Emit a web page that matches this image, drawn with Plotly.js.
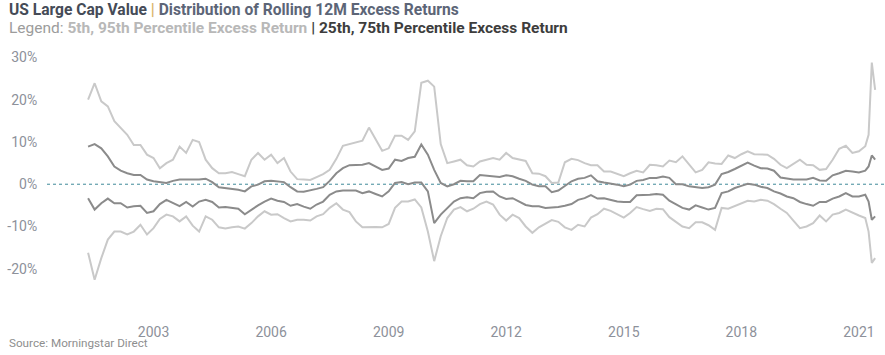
<!DOCTYPE html>
<html>
<head>
<meta charset="utf-8">
<script src="https://cdn.plot.ly/plotly-3.0.1.min.js"></script>
<style>
html,body{margin:0;padding:0;background:#fff;}
#chart{width:885px;height:355px;}
</style>
</head>
<body>
<div id="chart"></div>
<script>
// Dates (bimonthly, last months monthly)
const dates = [
 '2001-05-01','2001-07-01','2001-09-01','2001-11-01',
 '2002-01-01','2002-03-01','2002-05-01','2002-07-01','2002-09-01','2002-11-01',
 '2003-01-01','2003-03-01','2003-05-01','2003-07-01','2003-09-01','2003-11-01',
 '2004-01-01','2004-03-01','2004-05-01','2004-07-01','2004-09-01','2004-11-01',
 '2005-01-01','2005-03-01','2005-05-01','2005-07-01','2005-09-01','2005-11-01',
 '2006-01-01','2006-03-01','2006-05-01','2006-07-01','2006-09-01','2006-11-01',
 '2007-01-01','2007-03-01','2007-05-01','2007-07-01','2007-09-01','2007-11-01',
 '2008-01-01','2008-03-01','2008-05-01','2008-07-01','2008-09-01','2008-11-01',
 '2009-01-01','2009-03-01','2009-05-01','2009-07-01','2009-09-01','2009-11-01',
 '2010-01-01','2010-03-01','2010-05-01','2010-07-01','2010-09-01','2010-11-01',
 '2011-01-01','2011-03-01','2011-05-01','2011-07-01','2011-09-01','2011-11-01',
 '2012-01-01','2012-03-01','2012-05-01','2012-07-01','2012-09-01','2012-11-01',
 '2013-01-01','2013-03-01','2013-05-01','2013-07-01','2013-09-01','2013-11-01',
 '2014-01-01','2014-03-01','2014-05-01','2014-07-01','2014-09-01','2014-11-01',
 '2015-01-01','2015-03-01','2015-05-01','2015-07-01','2015-09-01','2015-11-01',
 '2016-01-01','2016-03-01','2016-05-01','2016-07-01','2016-09-01','2016-11-01',
 '2017-01-01','2017-03-01','2017-05-01','2017-07-01','2017-09-01','2017-11-01',
 '2018-01-01','2018-03-01','2018-05-01','2018-07-01','2018-09-01','2018-11-01',
 '2019-01-01','2019-03-01','2019-05-01','2019-07-01','2019-09-01','2019-11-01',
 '2020-01-01','2020-03-01','2020-05-01','2020-07-01','2020-09-01','2020-11-01',
 '2021-01-01','2021-03-01','2021-04-01','2021-05-01','2021-06-01'
];

// 95th percentile excess return (%)
const p95 = [
 20.0, 23.9, 19.6, 18.4,
 14.9, 13.3, 11.7, 9.3, 9.3, 7.0,
 6.2, 3.8, 5.0, 5.8, 8.9, 7.4,
 10.5, 10.0, 5.8, 3.8, 2.6, 2.6,
 2.9, 2.4, 1.9, 5.8, 7.4, 5.8,
 7.0, 5.0, 6.2, 3.0, 1.2, 1.1,
 1.0, 1.7, 2.4, 3.4, 6.0, 9.1,
 9.5, 10.0, 10.3, 13.4, 10.7, 7.9,
 8.5, 11.5, 11.5, 10.5, 12.5, 24.0,
 24.5, 23.1, 9.5, 5.0, 5.4, 5.8,
 4.5, 4.2, 5.4, 5.8, 6.2, 5.8,
 7.4, 6.2, 5.8, 5.5, 2.6, 2.5,
 1.9, 0.3, 0.4, 5.2, 6.0, 5.7,
 5.0, 4.5, 4.5, 3.0, 3.0, 2.4,
 1.9, 2.6, 3.2, 2.8, 4.6, 4.5,
 4.2, 5.6, 5.2, 6.6, 4.6, 2.8,
 3.4, 5.2, 4.9, 4.8, 6.8, 6.2,
 7.1, 7.8, 7.1, 7.1, 7.0, 6.0,
 4.6, 3.8, 4.8, 5.8, 4.6, 4.5,
 3.4, 3.6, 5.8, 8.4, 9.1, 7.4,
 7.8, 9.0, 11.7, 28.8, 22.3
];

// 75th percentile excess return (%)
const p75 = [
 8.9, 9.5, 8.5, 6.6,
 4.2, 3.2, 2.6, 2.2, 2.2, 1.1,
 0.7, 0.5, 0.3, 0.8, 1.1, 1.1,
 1.1, 1.1, 1.3, 0.5, -0.7, -0.9,
 -1.1, -1.3, -1.7, -0.5, -0.1, 0.7,
 0.8, 0.7, 0.5, -0.7, -1.7, -1.8,
 -1.5, -1.1, -0.7, 0.8, 2.6, 3.8,
 4.5, 4.5, 4.6, 5.0, 4.2, 3.4,
 3.7, 5.8, 5.5, 6.2, 6.5, 9.4,
 7.0, 3.4, 0.3, -0.5, 0.0, 0.8,
 0.7, 0.7, 2.2, 2.0, 1.9, 1.7,
 2.1, 1.9, 1.3, 0.8, -0.1, -0.5,
 -0.5, -1.9, -1.5, -0.3, 0.7, 1.3,
 1.5, 2.1, 0.7, 0.4, 0.2, -0.1,
 -0.5, -0.1, 0.8, 1.0, 1.5, 1.5,
 1.8, 1.5, 0.0, 0.0, -0.5, -0.7,
 -0.9, -0.7, -0.1, 2.4, 2.9, 3.6,
 4.4, 5.1, 4.4, 3.8, 3.7, 3.2,
 1.6, 1.3, 1.1, 1.1, 1.1, 1.5,
 0.9, 0.8, 2.1, 2.6, 3.2, 3.0,
 2.8, 3.2, 4.2, 6.8, 5.8
];

// 25th percentile excess return (%)
const p25 = [
 -3.3, -6.0, -4.5, -3.4,
 -4.5, -4.5, -5.5, -5.2, -5.1, -6.8,
 -6.4, -4.7, -3.7, -4.5, -5.2, -4.2,
 -5.3, -4.1, -3.7, -4.2, -5.5, -5.4,
 -5.6, -5.8, -7.1, -6.0, -5.0, -4.1,
 -3.4, -3.9, -4.2, -5.1, -4.7, -5.3,
 -5.8, -4.8, -4.1, -2.5, -1.7, -1.5,
 -1.5, -1.5, -2.1, -1.7, -2.3, -2.9,
 -1.7, 0.3, 0.5, 0.0, 0.4, 0.4,
 -1.7, -9.2, -7.2, -5.6, -4.1, -3.3,
 -3.1, -3.3, -2.1, -1.8, -1.7, -2.9,
 -3.5, -3.3, -4.1, -4.9, -5.2, -5.2,
 -5.6, -5.5, -5.4, -5.1, -4.7, -3.7,
 -3.3, -2.6, -3.4, -3.3, -3.7, -4.1,
 -4.2, -4.2, -2.6, -2.6, -2.5, -2.3,
 -2.5, -3.9, -4.7, -5.6, -6.0, -5.0,
 -5.5, -6.0, -5.6, -2.1, -1.7, -0.9,
 -0.4, 0.1, -0.1, -0.6, -0.9, -1.7,
 -2.2, -2.9, -3.3, -4.2, -4.7, -5.1,
 -4.2, -4.2, -3.4, -2.9, -2.1, -2.9,
 -2.9, -2.5, -4.1, -8.4, -7.6
];

// 5th percentile excess return (%)
const p5 = [
 -16.2, -22.6, -17.5, -13.1,
 -11.2, -11.2, -11.9, -11.2, -9.6, -11.9,
 -10.4, -8.2, -7.2, -7.6, -8.8, -7.6,
 -9.8, -11.2, -7.6, -8.4, -10.2, -10.5,
 -10.2, -10.0, -10.5, -9.2, -7.6, -6.4,
 -7.2, -7.1, -8.0, -8.8, -8.4, -8.4,
 -8.6, -7.6, -7.1, -5.6, -4.5, -6.0,
 -6.6, -8.8, -10.2, -10.1, -10.1, -10.2,
 -9.4, -5.6, -4.1, -4.1, -3.6, -5.5,
 -11.2, -18.2, -12.3, -8.0, -6.0, -5.4,
 -6.4, -5.8, -4.7, -4.1, -4.8, -7.2,
 -8.6, -7.2, -8.0, -10.0, -11.5, -10.2,
 -9.3, -8.5, -8.9, -10.2, -10.8, -9.6,
 -10.0, -7.9, -7.1, -5.8, -6.3, -7.2,
 -7.9, -6.8, -5.4, -5.9, -6.3, -5.8,
 -5.9, -7.8, -8.8, -10.0, -10.4, -9.0,
 -9.0, -9.7, -10.8, -5.6, -5.8, -5.2,
 -4.5, -3.9, -4.1, -3.7, -3.9, -4.7,
 -5.8, -6.8, -8.6, -10.4, -10.0, -9.2,
 -7.4, -8.8, -7.2, -6.8, -6.0, -6.8,
 -7.4, -8.0, -11.2, -18.6, -17.5
];

// Axis ticks
const xTickVals = ['2003-01-01','2006-01-01','2009-01-01','2012-01-01','2015-01-01','2018-01-01','2021-01-01'];
const xTickText = ['2003','2006','2009','2012','2015','2018','2021'];
const yTickVals = [-20, -10, 0, 10, 20, 30];
const yTickText = ['-20%','-10%','0%','10%','20%','30%'];

const W = 885, H = 355;
const M = {l: 47, r: 0, t: 49, b: 44};
const pw = W - M.l - M.r, ph = H - M.t - M.b;
const px = v => (v - M.l) / pw;
const py = v => 1 - (v - M.t) / ph;

const light = '#c9c9c9', dark = '#8b8b8b';
function tr(y, color){
  return {x: dates, y: y, type: 'scatter', mode: 'lines',
    line: {color: color, width: 2}, hoverinfo: 'skip', showlegend: false};
}
const data = [tr(p95, light), tr(p5, light), tr(p75, dark), tr(p25, dark)];

const FAM = 'Roboto, "Liberation Sans", sans-serif';
const tickFont = {family: FAM, size: 14, color: '#8d919a'};

const layout = {
  width: W, height: H,
  margin: M,
  paper_bgcolor: '#fff', plot_bgcolor: '#fff',
  showlegend: false,
  xaxis: {
    type: 'date', range: ['2000-04-13', '2021-09-01'],
    tickvals: xTickVals, ticktext: xTickText,
    showgrid: false, zeroline: false, showline: false,
    ticks: 'outside', ticklen: 8, tickcolor: 'rgba(0,0,0,0)',
    tickfont: tickFont
  },
  yaxis: {
    range: [-30, 32],
    tickvals: yTickVals, ticktext: yTickText,
    showgrid: false, zeroline: false, showline: false,
    ticks: 'outside', ticklen: 6, tickcolor: 'rgba(0,0,0,0)',
    tickfont: tickFont
  },
  shapes: [{
    type: 'line', xref: 'paper', x0: 0, x1: 1, yref: 'y', y0: 0, y1: 0,
    line: {color: '#3f8a99', width: 1, dash: 'dot'}, layer: 'below'
  }],
  annotations: [
    {xref: 'paper', yref: 'paper', x: px(7), y: py(10), xanchor: 'left', yanchor: 'middle',
     showarrow: false, align: 'left',
     font: {family: FAM, size: 15.6, color: '#454b57'},
     text: '<b>US Large Cap Value <span style="color:#d9b36b">|</span> <span style="color:#5c6577">Distribution of Rolling 12M Excess Returns</span></b>'},
    {xref: 'paper', yref: 'paper', x: px(7), y: py(28), xanchor: 'left', yanchor: 'middle',
     showarrow: false, align: 'left',
     font: {family: FAM, size: 15.5, color: '#9c9c9c'},
     text: 'Legend: <b><span style="color:#b8b8b8">5th, 95th Percentile Excess Return</span> <span style="color:#3d3d3d">| 25th, 75th Percentile Excess Return</span></b>'},
    {xref: 'paper', yref: 'paper', x: px(7), y: py(343), xanchor: 'left', yanchor: 'middle',
     showarrow: false, align: 'left',
     font: {family: FAM, size: 11.7, color: '#8e8e8e'},
     text: 'Source: Morningstar Direct'}
  ]
};

Plotly.newPlot('chart', data, layout, {staticPlot: true, displayModeBar: false});
</script>
</body>
</html>
